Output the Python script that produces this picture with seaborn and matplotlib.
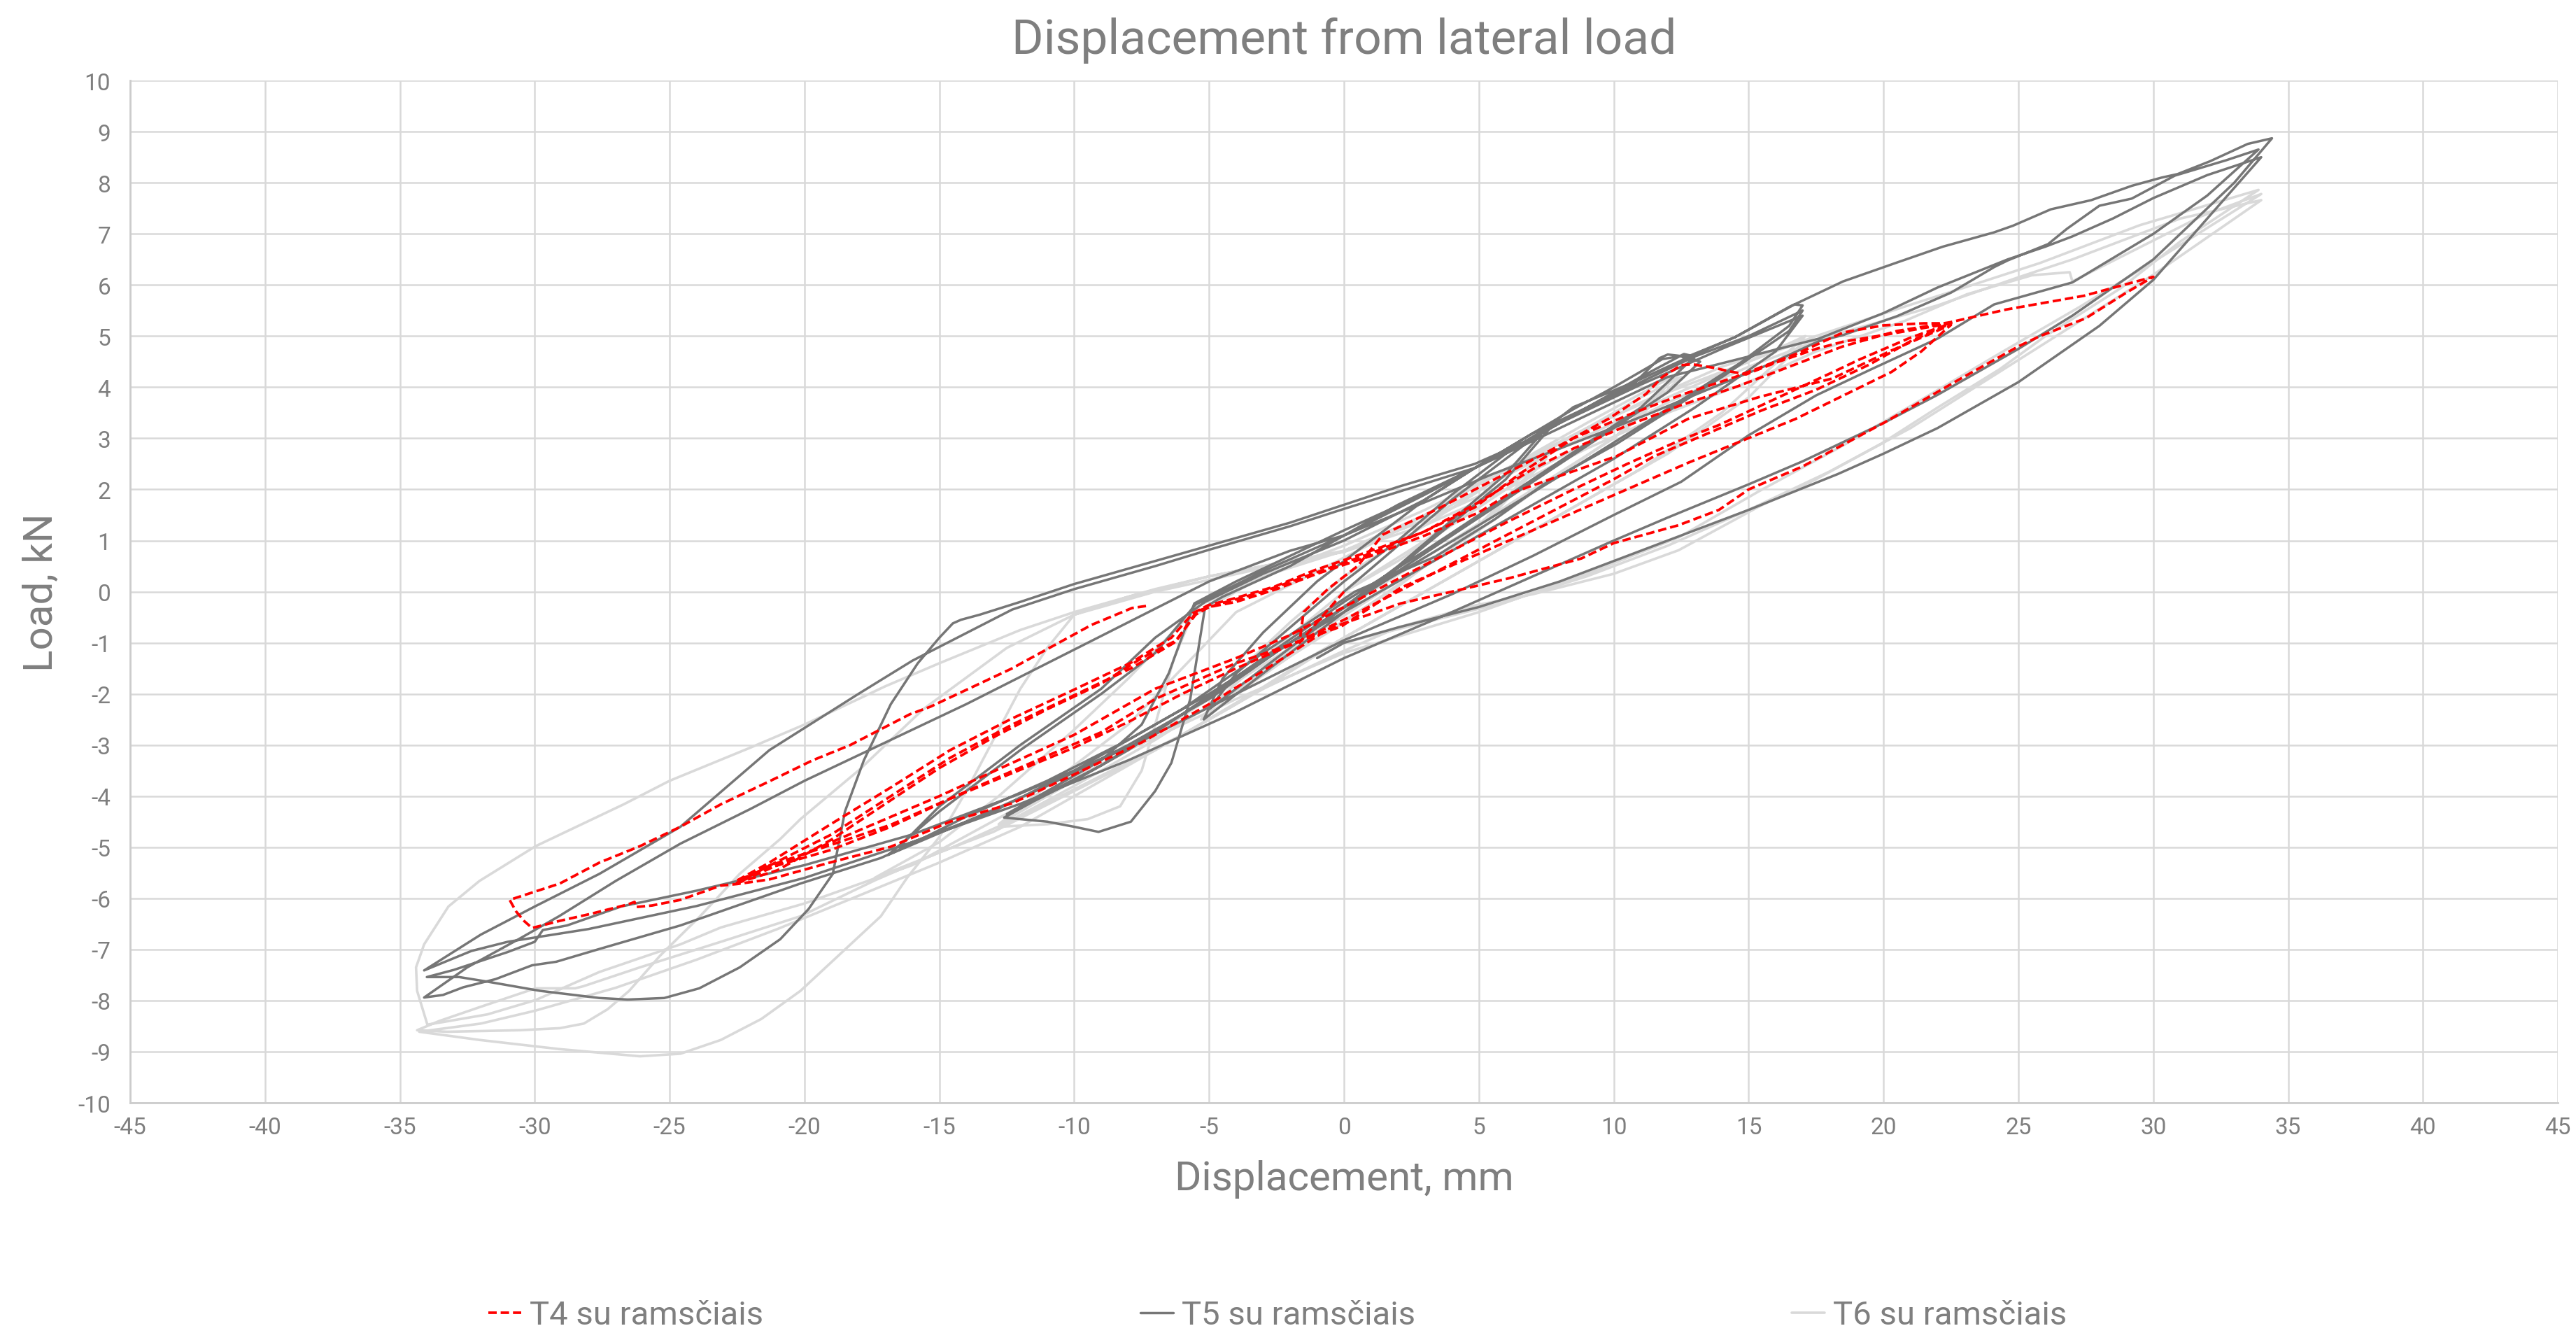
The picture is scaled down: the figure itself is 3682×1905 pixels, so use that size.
import pandas as pd
import seaborn as sns
import matplotlib
matplotlib.use("Agg")
import matplotlib.pyplot as plt

# ---- T4 su ramsčiais (red dashed) ----
t4_start = [(0, 0), (-1, -0.6), (-1.65, -1.0), (-1.5, -0.4), (-0.6, 0.05), (0.5, 0.5), (1.45, 1.12), (3.44, 1.61),
            (5.44, 2.16), (6.77, 2.52), (8.1, 2.89), (9.8, 3.38), (11.2, 3.87), (11.8, 4.2), (12.5, 4.43),
            (12.9, 4.45), (13.7, 4.38), (14.3, 4.31), (14.9, 4.25), (16, 4.48), (17.5, 4.75), (18.5, 4.89),
            (20, 5.02), (21.5, 5.16), (22.5, 5.25)]
t4_down1 = [(21, 4.9), (19.5, 4.45), (17.5, 3.95), (15.5, 3.55), (13.5, 3.1), (11.5, 2.65), (10, 2.2), (8, 1.65),
            (6, 1.1), (4, 0.55), (2, 0.0), (0, -0.55), (-2, -1.05), (-4, -1.5), (-6, -2.0), (-8, -2.55),
            (-10, -3.05), (-12.3, -3.55), (-14.6, -4.05), (-16.8, -4.6), (-19, -5.05), (-21.3, -5.4), (-22.5, -5.65)]
t4_up1 = [(-21.3, -5.3), (-19.06, -4.56), (-16.8, -3.83), (-14.6, -3.1), (-12.34, -2.49), (-10.1, -1.94),
          (-7.9, -1.39), (-6.4, -0.9), (-5.6, -0.42), (-5.05, -0.27), (-4.06, -0.13), (-2.57, 0.1), (-1.09, 0.42),
          (0.89, 0.78), (2.87, 1.15), (4.85, 1.65), (6.5, 2.3), (8.5, 3.0), (10.5, 3.45), (12.5, 3.85),
          (14.5, 4.2), (16.8, 4.66), (18.5, 5.07), (20, 5.21), (21.5, 5.25), (22.5, 5.25)]
t4_down2 = [(21, 4.97), (19.1, 4.54), (18.1, 4.29), (16.1, 3.8), (13.9, 3.26), (12.4, 2.95), (10.5, 2.5),
            (8.5, 2.0), (6, 1.35), (4, 0.8), (2, 0.25), (0, -0.3), (-2, -0.85), (-4, -1.3), (-7, -1.9),
            (-10, -2.8), (-12.3, -3.35), (-15, -4.0), (-17, -4.45), (-19, -4.9), (-21, -5.35), (-22.5, -5.7)]
t4_up2 = [(-21.3, -5.36), (-19, -4.75), (-16.8, -4.0), (-14.6, -3.25), (-12.3, -2.6), (-10.1, -2.05), (-7.9, -1.5),
          (-6.3, -1.0), (-5.5, -0.45), (-5, -0.3), (-4, -0.2), (-2.5, 0.05), (-1, 0.35), (1, 0.7), (3, 1.1),
          (5, 1.55), (6.1, 1.91), (7.43, 2.16), (10.1, 2.65), (12.75, 3.38), (15.4, 3.81), (18.1, 4.17),
          (20.3, 4.72), (22.5, 5.22)]
t4_down3 = [(21.4, 4.7), (20.3, 4.3), (16.74, 3.38), (12.75, 2.52), (10.09, 1.91), (7.43, 1.3), (4.77, 0.69),
            (2.11, 0.08), (-0.1, -0.68), (-2.08, -1.05), (-4.06, -1.41), (-7.0, -2.1), (-9, -2.75),
            (-12.34, -3.52), (-16.8, -4.56), (-21.3, -5.36), (-22.5, -5.7)]
t4_up3 = [(-21, -5.45), (-19, -4.85), (-17, -4.15), (-15, -3.45), (-13, -2.85), (-11, -2.3), (-9, -1.8),
          (-7.5, -1.3), (-6.2, -0.95), (-5.45, -0.38), (-4.5, -0.22), (-3, 0.0), (-1, 0.38), (1, 0.75), (3, 1.18),
          (5, 1.75), (7, 2.4), (8.5, 2.8), (10.5, 3.25), (12.5, 3.65), (14.5, 4.0), (16.5, 4.4), (18.5, 4.8),
          (20.5, 5.1), (22.46, 5.27), (24.55, 5.52), (27.44, 5.79), (30.0, 6.16)]
t4_down_big = [(29, 5.85), (27.5, 5.35), (25.8, 5.0), (25, 4.8), (22.8, 4.15), (20, 3.3), (17, 2.45), (15, 2.0),
               (13.9, 1.6), (12.4, 1.3), (10, 0.95), (8.8, 0.65), (6.1, 0.26), (4, 0.0), (2.1, -0.23),
               (-0.55, -0.72), (-3, -1.55), (-5, -2.2), (-7.5, -2.95), (-10.1, -3.6), (-12.3, -4.14),
               (-14.6, -4.5), (-16.8, -4.99), (-19.06, -5.3), (-21.3, -5.63), (-22.5, -5.72), (-23.1, -5.75),
               (-24.6, -6.03), (-25.65, -6.14), (-26.25, -6.17), (-26.3, -6.07), (-26.55, -6.12), (-27.9, -6.3),
               (-29.07, -6.44), (-30.1, -6.58), (-30.4, -6.44), (-30.7, -6.25), (-30.93, -6.03)]
t4_last = [(-29.07, -5.71), (-27.6, -5.3), (-26.1, -4.98), (-24.6, -4.6), (-23.1, -4.16), (-21.3, -3.71),
           (-19.7, -3.3), (-18.3, -3.0), (-16.1, -2.4), (-15.33, -2.25), (-12.34, -1.51), (-9.36, -0.65),
           (-7.86, -0.32), (-7.2, -0.27)]

# ---- T5 su ramsčiais (dark grey) ----
t5_small = [(0, 0), (2, 0.9), (4, 1.8), (5.5, 2.4), (7.5, 3.2), (6, 2.3), (4, 1.4), (2, 0.5), (0, -0.3),
            (-2, -1.1), (-4, -1.9), (-5, -2.3), (-4, -1.6), (-2, -0.7), (0, 0.2), (2, 1.0), (4, 1.9), (6, 2.7),
            (7.8, 3.3), (6, 2.2), (3, 0.9), (0, -0.4), (-3, -1.6), (-5.2, -2.5)]
t5_mid = [(-4.5, -1.7), (-3, -0.8), (-1, 0.2), (1, 1.0), (3, 1.8), (4.85, 2.42), (7, 3.1), (8.5, 3.57), (10, 4.0),
          (11.8, 4.55), (12.6, 4.62), (13.2, 4.5),
          (12, 3.9), (10, 3.2), (8, 2.5), (6, 1.8), (4, 1.1), (2, 0.4), (0, -0.3), (-2, -1.0), (-4, -1.7),
          (-6, -2.4), (-8, -3.1), (-10, -3.7), (-11.5, -4.1), (-12.6, -4.42),
          (-11, -4.5), (-10, -4.6), (-9.1, -4.7), (-7.9, -4.5), (-7, -3.9), (-6.4, -3.35), (-5.7, -2.1),
          (-5.15, -0.3), (-4.5, -0.1), (-2, 0.5), (0, 1.1), (2, 1.7), (4.85, 2.42), (7, 3.1), (9, 3.6),
          (11, 4.2), (12.6, 4.65), (13, 4.6),
          (11, 3.6), (9, 2.9), (7, 2.2), (5, 1.5), (3, 0.8), (0, -0.2), (-3, -1.3), (-6, -2.4), (-9, -3.4),
          (-12.5, -4.35),
          (-11, -3.9), (-9, -3.3), (-7.5, -2.6), (-6.5, -1.6), (-5.55, -0.23), (-4, 0.2), (-2, 0.7), (0, 1.2),
          (2.5, 1.8), (4.85, 2.42), (7, 3.0), (9, 3.6), (10.8, 4.1), (11.7, 4.57), (12.0, 4.64), (12.5, 4.61),
          (12.6, 4.57)]
t5_17 = [(14.5, 4.98), (16.7, 5.62), (17, 5.6),
         (16.5, 5.2), (14.7, 4.48), (11.4, 3.38), (8.8, 2.52), (5, 1.3), (1.5, 0.2), (-2, -1.0), (-5, -2.1),
         (-8, -3.0), (-11, -3.8), (-14, -4.5), (-16.9, -5.15),
         (-15, -4.3), (-12, -3.1), (-9, -2.0), (-7, -1.2), (-5.5, -0.25), (-3, 0.4), (0, 1.1), (3, 1.9),
         (4.85, 2.42), (7, 3.0), (9, 3.6), (11, 4.1), (13, 4.6), (15, 5.0), (17, 5.5),
         (16.5, 5.1), (14.1, 4.23), (10.1, 2.89), (7.4, 2.1), (5.6, 1.42), (3.4, 0.69), (0.4, 0.0), (-3, -1.2),
         (-6, -2.3), (-10, -3.5), (-13, -4.3), (-16.5, -5.0),
         (-15, -4.2), (-12, -3.0), (-9, -1.9), (-7, -0.9), (-5.15, -0.2), (-3, 0.35), (0, 1.0), (3, 1.8),
         (4.85, 2.42), (8, 3.3), (11, 4.05), (14, 4.75), (17, 5.4),
         (16, 4.7), (13, 3.6), (10, 2.6), (7, 1.7), (4, 0.8), (1, -0.1), (-2, -1.0), (-5, -2.0), (-8, -2.9),
         (-11, -3.7), (-14, -4.4), (-16.2, -4.98)]
t5_c = [(-17.17, -5.21), (-20.15, -5.71), (-24.6, -6.53), (-27.6, -6.99), (-29.2, -7.24), (-30.1, -7.31),
        (-31.45, -7.58), (-32.65, -7.74), (-33.4, -7.89), (-34.1, -7.94),
        (-32.5, -7.35), (-30.6, -6.8), (-29.1, -6.35), (-27, -5.66), (-24.6, -4.93), (-22, -4.25), (-20, -3.7),
        (-17, -2.95), (-14, -2.2), (-11, -1.4), (-8, -0.6), (-5, 0.2), (-2, 0.8), (0, 1.1), (3, 1.75),
        (5.5, 2.3), (8, 2.8), (11.4, 3.5), (14.75, 4.23), (15.5, 4.39), (17.6, 4.9), (18.5, 5.02),
        (20.5, 5.39), (22.5, 5.85), (24.1, 6.35), (24.6, 6.48), (26.1, 6.8), (26.8, 7.1), (28, 7.55),
        (29.2, 7.69), (30.8, 8.14), (32.7, 8.44), (33.9, 8.65)]
t5_b = [(32, 7.75), (30, 7.0), (27, 6.05), (24.1, 5.62), (22, 4.95), (19.5, 4.34), (17.5, 3.84), (15, 3.06),
        (12.5, 2.15), (10, 1.5), (7, 0.7), (4, -0.05), (0, -0.95), (-4, -2.0), (-8, -3.05), (-12, -3.95),
        (-16, -4.75), (-20, -5.35), (-24, -5.85), (-26.8, -6.16), (-28.8, -6.53), (-29.7, -6.62), (-30, -6.85),
        (-31, -7.05), (-33, -7.4), (-34, -7.54),
        (-32.8, -7.54), (-31.75, -7.63), (-29.8, -7.81), (-27.6, -7.95), (-26.55, -7.98), (-25.2, -7.95),
        (-23.9, -7.76), (-22.4, -7.35), (-20.9, -6.8), (-19.85, -6.21), (-18.95, -5.52), (-18.5, -4.3),
        (-17.8, -3.3), (-16.8, -2.2), (-15.8, -1.4), (-15, -0.9), (-14.5, -0.62)]
t5_env = [(-14.2, -0.55), (-13.5, -0.45), (-12, -0.2), (-10, 0.15), (-7, 0.6), (-5, 0.9), (-2, 1.35), (0, 1.7),
          (2, 2.05), (4.85, 2.5), (7, 3.0), (8.5, 3.61), (10.8, 4.11), (12.7, 4.57), (14.5, 4.98),
          (16.5, 5.57), (18.5, 6.07), (20.5, 6.44), (22.2, 6.75), (24.1, 7.03), (24.8, 7.16), (26.2, 7.48),
          (27.7, 7.66), (29.2, 7.94), (30.3, 8.1), (30.9, 8.17), (32.1, 8.42), (33.5, 8.76), (34.4, 8.87)]
t5_a = [(33, 8.0), (30, 6.5), (27, 5.4), (25, 4.75), (22, 3.85), (20, 3.3), (17, 2.55), (15, 2.1), (12, 1.45),
        (10, 1.0), (7, 0.3), (4, -0.4), (0, -1.3), (-4, -2.35), (-8, -3.3), (-12, -4.15), (-16, -4.9),
        (-20, -5.6), (-24, -6.15), (-28, -6.6), (-31, -6.85), (-32.35, -7.03), (-34.1, -7.41),
        (-32, -6.71), (-30, -6.16), (-27.6, -5.52), (-24.6, -4.6), (-21.3, -3.1), (-18, -2.0), (-16, -1.35),
        (-12.3, -0.35), (-10, 0.05), (-7, 0.5), (-5, 0.82), (-2, 1.28), (0, 1.62), (2, 1.95), (4.85, 2.42),
        (7, 2.95), (10, 3.7), (12, 4.2), (15, 4.6), (17.6, 4.95), (20, 5.45), (22, 5.95), (24.6, 6.5),
        (26, 6.75), (27, 6.95), (28.5, 7.3), (30, 7.7), (32, 8.15), (34, 8.5)]
t5_end = [(32, 7.3), (30, 6.1), (28, 5.2), (25, 4.1), (22, 3.2), (20, 2.7), (18.3, 2.3), (15, 1.6), (12, 1.0),
          (10, 0.6), (8, 0.2), (5, -0.3), (2, -0.7), (0, -1.0), (-1, -1.3)]

# ---- T6 su ramsčiais (light grey) ----
t6_small = [(0, 0), (2, 0.6), (4, 1.3), (6, 2.0), (7.5, 2.6), (5.5, 1.5), (3, 0.5), (0, -0.6), (-3, -1.6),
            (-5, -2.3), (-3, -1.3), (0, 0.0), (3, 1.0), (6, 2.1), (7.8, 2.8), (5, 1.3), (2, 0.1), (-1, -0.9),
            (-4, -2.0), (-5.3, -2.5)]
t6_mid = [(-4, -1.6), (-2, -0.6), (0, 0.3), (3, 1.3), (6, 2.3), (9, 3.2), (11, 3.8), (12.5, 4.2),
          (10.5, 3.2), (8, 2.3), (5, 1.2), (2, 0.2), (-1, -0.8), (-4, -1.9), (-7, -2.9), (-10, -3.8),
          (-12.8, -4.6),
          (-11, -4.55), (-9.5, -4.45), (-8.3, -4.2), (-7.5, -3.5), (-7, -2.6), (-6.3, -1.3), (-5.5, -0.3),
          (-3, 0.3), (0, 0.9), (3, 1.6), (6, 2.4), (9, 3.3), (12.5, 4.3),
          (10, 3.0), (7, 2.0), (4, 1.0), (1, 0.0), (-2, -1.1), (-5, -2.1), (-8, -3.1), (-11, -4.0),
          (-12.8, -4.55)]
t6_17 = [(-11, -3.8), (-8, -2.6), (-6, -1.5), (-4, -0.4), (-1, 0.4), (2, 1.2), (5, 2.1), (8, 2.9), (11, 3.7),
         (14, 4.4), (17.1, 4.93),
         (15, 3.8), (12, 2.7), (9, 1.8), (6, 0.9), (3, 0.0), (0, -0.9), (-3, -1.9), (-6, -2.8), (-9, -3.6),
         (-12, -4.4), (-14.5, -5.0), (-17.4, -5.6),
         (-15, -4.9), (-12.8, -4.0), (-10, -2.7), (-8, -1.7), (-6, -0.6), (-3, 0.3), (0, 0.8), (3, 1.5),
         (6, 2.4), (9, 3.2), (12, 3.9), (15, 4.5), (17.1, 5.0),
         (14, 3.5), (11, 2.4), (8, 1.5), (5, 0.6), (2, -0.3), (-1, -1.2), (-4, -2.2), (-7, -3.1), (-10, -3.9),
         (-13, -4.7), (-15, -5.1), (-17.4, -5.65)]
t6_big1 = [(-20.15, -6.35), (-23.1, -6.85), (-26.1, -7.35), (-28.2, -7.72), (-28.5, -7.76), (-29.97, -7.76),
           (-32.05, -8.13), (-33.54, -8.4), (-34.36, -8.58),
           (-33.24, -8.61), (-30.56, -8.58), (-29.07, -8.54), (-28.18, -8.45), (-27.3, -8.17), (-26.5, -7.81),
           (-25.35, -7.12), (-23.87, -6.35), (-22.4, -5.52), (-20.9, -4.84), (-20.15, -4.45), (-18, -3.5),
           (-15.6, -2.3), (-12.5, -1.1), (-10, -0.45), (-7, 0.0), (-3, 0.46), (0, 0.78), (3, 1.3), (6, 2.0),
           (9, 2.8), (12, 3.5), (15, 4.1), (17.5, 4.7), (20.8, 5.3), (23.1, 5.82), (25.5, 6.19), (26.9, 6.25),
           (27.0, 6.07), (28.8, 6.55), (31.8, 7.35), (34.0, 7.78)]
t6_big2 = [(30.3, 6.55), (27.3, 5.58), (24.3, 4.66), (21.35, 3.74), (18.4, 2.83), (15.4, 1.97), (12.4, 1.06),
           (9, 0.35), (5, -0.4), (0, -1.2), (-4, -2.1), (-8, -3.1), (-12, -4.2), (-16, -5.35), (-20, -6.1),
           (-23.1, -6.57), (-24.6, -6.9), (-26.1, -7.17), (-27.6, -7.44), (-29.97, -7.99), (-31.75, -8.27),
           (-33.4, -8.42), (-33.98, -8.47),
           (-34.36, -7.81), (-34.4, -7.35), (-34.1, -6.9), (-33.2, -6.16), (-32.05, -5.66), (-29.97, -4.98),
           (-26.7, -4.16), (-25, -3.7), (-22, -3.05), (-20, -2.6), (-17, -1.85), (-15, -1.4), (-12, -0.75),
           (-10, -0.4), (-7, 0.05), (-5, 0.3), (-3, 0.5), (0, 0.8), (3, 1.4), (5, 2.0), (8, 2.8), (10, 3.3),
           (12, 3.8), (15, 4.5), (17.5, 5.0), (20.8, 5.58), (23, 5.95), (25.8, 6.43), (29.5, 7.17),
           (31.8, 7.53), (33.9, 7.86)]
t6_big3 = [(31, 6.85), (28.8, 5.94), (26, 5.0), (24.3, 4.35), (22, 3.6), (19.9, 2.89), (17.5, 2.2), (15.4, 1.67),
           (12.4, 0.81), (10, 0.35), (7, -0.05), (4.85, -0.27), (2, -0.7), (-0.1, -1.18), (-3.6, -2.05),
           (-6, -2.8), (-9, -3.7), (-12, -4.6), (-15, -5.3), (-18, -5.95), (-21, -6.6), (-24, -7.2),
           (-27, -7.75), (-30, -8.2), (-32, -8.45), (-34.28, -8.61),
           (-32.05, -8.77), (-29.07, -8.95), (-26.1, -9.09), (-24.6, -9.04), (-23.1, -8.77), (-21.6, -8.36),
           (-20.15, -7.81), (-18.66, -7.08), (-17.17, -6.35), (-16.2, -5.6), (-15, -4.8), (-14, -3.9),
           (-13, -2.9), (-12, -1.9), (-11, -1.1), (-10, -0.45), (-8, -0.1), (-5, 0.3), (-2, 0.6), (0, 0.78),
           (3, 1.4), (6, 2.1), (9, 2.9), (12, 3.7), (15, 4.4), (18, 5.0), (20, 5.3), (22, 5.6), (25, 6.15),
           (27, 6.5), (29, 6.9), (31, 7.3), (34, 7.66)]
t6_end = [(30, 6.2), (27, 5.2), (24, 4.2), (21, 3.2), (18, 2.35), (15, 1.6), (12, 0.9), (9, 0.3), (6, -0.2),
          (3, -0.6), (0, -1.0)]

labels = ["T4 su ramsčiais", "T5 su ramsčiais", "T6 su ramsčiais"]
x_ticks = list(range(-45, 50, 5))
y_ticks = list(range(-10, 11, 1))

t4 = t4_start + t4_down1 + t4_up1 + t4_down2 + t4_up2 + t4_down3 + t4_up3 + t4_down_big + t4_last
t5 = t5_small + t5_mid + t5_17 + t5_c + t5_b + t5_env + t5_a + t5_end
t6 = t6_small + t6_mid + t6_17 + t6_big1 + t6_big2 + t6_big3 + t6_end

sns.set_style("white")
plt.rcParams["font.family"] = ["Roboto", "DejaVu Sans"]
plt.rcParams["axes.unicode_minus"] = False
txt = "#7f7f7f"
grid_c = "#d9d9d9"

fig = plt.figure(figsize=(36.82, 19.06), dpi=100)
ax = fig.add_axes([0.0505, 0.1726, 0.9425, 0.7665])

df6 = pd.DataFrame(t6, columns=["disp", "load"])
df5 = pd.DataFrame(t5, columns=["disp", "load"])
df4 = pd.DataFrame(t4, columns=["disp", "load"])

sns.lineplot(data=df6, x="disp", y="load", sort=False, estimator=None, color="#d9d9d9", lw=2.6, ax=ax,
             label=labels[2], zorder=3)
sns.lineplot(data=df5, x="disp", y="load", sort=False, estimator=None, color="#767676", lw=2.5, ax=ax,
             label=labels[1], zorder=4)
sns.lineplot(data=df4, x="disp", y="load", sort=False, estimator=None, color="#ff0000", lw=2.7,
             linestyle=(0, (3.2, 1.5)), ax=ax, label=labels[0], zorder=5)

ax.set_xlim(-45, 45)
ax.set_ylim(-10, 10)
ax.set_xticks(x_ticks)
ax.set_yticks(y_ticks)
ax.grid(True, color=grid_c, lw=1.8)
ax.set_axisbelow(True)
for s in ["top", "right"]:
    ax.spines[s].set_visible(False)
for s in ["left", "bottom"]:
    ax.spines[s].set_color("#cccccc")
    ax.spines[s].set_linewidth(2.0)
ax.tick_params(length=0, labelsize=24, colors=txt)
ax.tick_params(axis="y", pad=20)
ax.tick_params(axis="x", pad=14)

ax.set_xlabel("Displacement, mm", fontsize=42, color=txt, va="center")
ax.set_ylabel("Load, kN", fontsize=42, color=txt, va="center")
ax.xaxis.set_label_coords(0.5, -0.0745)
ax.yaxis.set_label_coords(-0.0366, 0.5)
ax.set_title("Displacement from lateral load", fontsize=50, color=txt, pad=28)

handles, labs = ax.get_legend_handles_labels()
ax.get_legend().remove()
order = [labs.index(l) for l in labels]
fig.legend([handles[i] for i in order], labels, loc="center", bbox_to_anchor=(0.496, 0.0135), ncol=3,
           frameon=False, fontsize=34, handlelength=1.0, handletextpad=0.25, columnspacing=11.4,
           labelcolor=txt)

fig.savefig("out.png", dpi=100)
